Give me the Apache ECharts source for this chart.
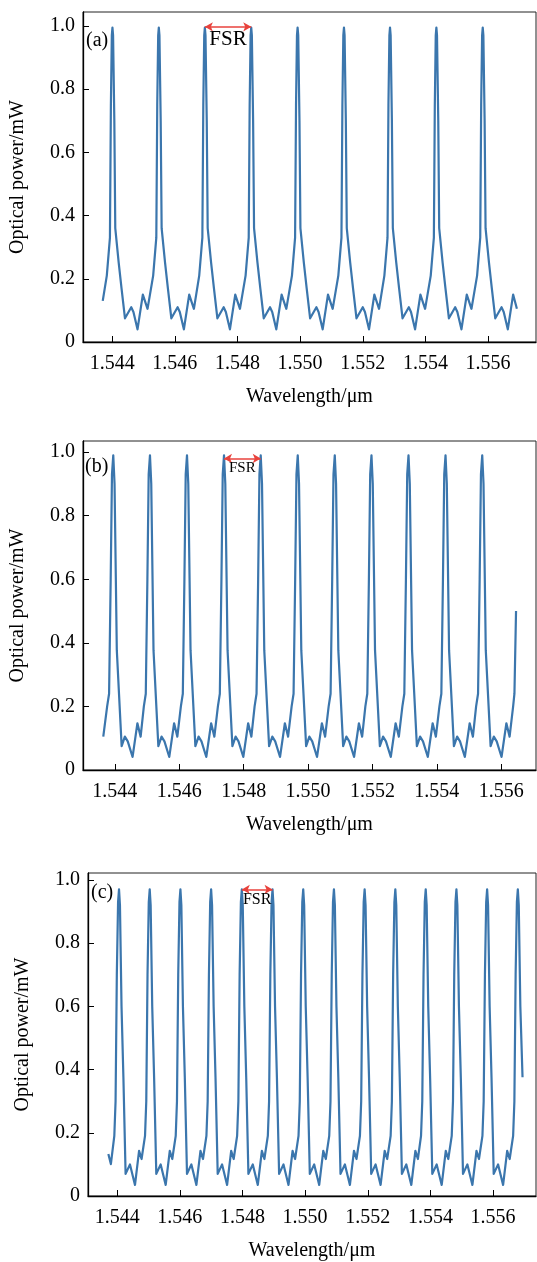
<!DOCTYPE html>
<html>
<head>
<meta charset="utf-8">
<script src="https://cdn.jsdelivr.net/npm/echarts@6/dist/echarts.min.js"></script>
<style>
  html, body { margin: 0; padding: 0; background: #fff; }
  #chart { width: 537px; height: 1262px; }
</style>
</head>
<body>
<div id="chart"></div>
<script>
// tick labels shared by the three panels
var xTicks = [1.544, 1.546, 1.548, 1.550, 1.552, 1.554, 1.556];
var yTicks = [0, 0.2, 0.4, 0.6, 0.8, 1.0];

// (a) spectrum, [wavelength um, power mW]
var spectrumA = [
  [1.54370, 0.13],
  [1.54383, 0.21], [1.54393, 0.33], [1.54396, 0.75], [1.54399, 0.97], [1.54401, 0.995], [1.54403, 0.97], [1.54407, 0.7], [1.54410, 0.36], [1.54421, 0.25], [1.54430, 0.17], [1.54441, 0.075], [1.54461, 0.11], [1.54468, 0.095], [1.54481, 0.04], [1.54498, 0.15], [1.54513, 0.105],
  [1.54531, 0.21], [1.54541, 0.33], [1.54544, 0.75], [1.54547, 0.97], [1.54549, 0.995], [1.54551, 0.97], [1.54555, 0.7], [1.54558, 0.36], [1.54569, 0.25], [1.54578, 0.17], [1.54589, 0.075], [1.54609, 0.11], [1.54616, 0.095], [1.54629, 0.04], [1.54646, 0.15], [1.54661, 0.105],
  [1.54678, 0.21], [1.54688, 0.33], [1.54691, 0.75], [1.54694, 0.97], [1.54696, 0.995], [1.54698, 0.97], [1.54702, 0.7], [1.54705, 0.36], [1.54716, 0.25], [1.54725, 0.17], [1.54736, 0.075], [1.54756, 0.11], [1.54763, 0.095], [1.54776, 0.04], [1.54793, 0.15], [1.54808, 0.105],
  [1.54826, 0.21], [1.54836, 0.33], [1.54839, 0.75], [1.54842, 0.97], [1.54844, 0.995], [1.54846, 0.97], [1.54850, 0.7], [1.54853, 0.36], [1.54864, 0.25], [1.54873, 0.17], [1.54884, 0.075], [1.54904, 0.11], [1.54911, 0.095], [1.54924, 0.04], [1.54941, 0.15], [1.54956, 0.105],
  [1.54974, 0.21], [1.54984, 0.33], [1.54987, 0.75], [1.54990, 0.97], [1.54992, 0.995], [1.54994, 0.97], [1.54998, 0.7], [1.55001, 0.36], [1.55012, 0.25], [1.55021, 0.17], [1.55032, 0.075], [1.55052, 0.11], [1.55059, 0.095], [1.55072, 0.04], [1.55089, 0.15], [1.55104, 0.105],
  [1.55122, 0.21], [1.55132, 0.33], [1.55135, 0.75], [1.55138, 0.97], [1.55140, 0.995], [1.55142, 0.97], [1.55146, 0.7], [1.55149, 0.36], [1.55160, 0.25], [1.55169, 0.17], [1.55180, 0.075], [1.55200, 0.11], [1.55207, 0.095], [1.55220, 0.04], [1.55237, 0.15], [1.55252, 0.105],
  [1.55269, 0.21], [1.55279, 0.33], [1.55282, 0.75], [1.55285, 0.97], [1.55287, 0.995], [1.55289, 0.97], [1.55293, 0.7], [1.55296, 0.36], [1.55307, 0.25], [1.55316, 0.17], [1.55327, 0.075], [1.55347, 0.11], [1.55354, 0.095], [1.55367, 0.04], [1.55384, 0.15], [1.55399, 0.105],
  [1.55417, 0.21], [1.55427, 0.33], [1.55430, 0.75], [1.55433, 0.97], [1.55435, 0.995], [1.55437, 0.97], [1.55441, 0.7], [1.55444, 0.36], [1.55455, 0.25], [1.55464, 0.17], [1.55475, 0.075], [1.55495, 0.11], [1.55502, 0.095], [1.55515, 0.04], [1.55532, 0.15], [1.55547, 0.105],
  [1.55565, 0.21], [1.55575, 0.33], [1.55578, 0.75], [1.55581, 0.97], [1.55583, 0.995], [1.55585, 0.97], [1.55589, 0.7], [1.55592, 0.36], [1.55603, 0.25], [1.55612, 0.17], [1.55623, 0.075], [1.55643, 0.11], [1.55650, 0.095], [1.55663, 0.04], [1.55680, 0.15], [1.55692, 0.105]
];

// (b)
var spectrumB = [
  [1.54364, 0.105],
  [1.54376, 0.2], [1.54382, 0.24], [1.54387, 0.6], [1.54391, 0.93], [1.54395, 0.99], [1.54399, 0.9], [1.54406, 0.377], [1.54421, 0.075], [1.54431, 0.105], [1.54440, 0.09], [1.54455, 0.041], [1.54470, 0.147], [1.54480, 0.105],
  [1.54490, 0.2], [1.54496, 0.24], [1.54501, 0.6], [1.54505, 0.93], [1.54509, 0.99], [1.54513, 0.9], [1.54520, 0.377], [1.54535, 0.075], [1.54545, 0.105], [1.54554, 0.09], [1.54569, 0.041], [1.54584, 0.147], [1.54594, 0.105],
  [1.54605, 0.2], [1.54611, 0.24], [1.54616, 0.6], [1.54620, 0.93], [1.54624, 0.99], [1.54628, 0.9], [1.54635, 0.377], [1.54650, 0.075], [1.54660, 0.105], [1.54669, 0.09], [1.54684, 0.041], [1.54699, 0.147], [1.54709, 0.105],
  [1.54720, 0.2], [1.54726, 0.24], [1.54731, 0.6], [1.54735, 0.93], [1.54739, 0.99], [1.54743, 0.9], [1.54750, 0.377], [1.54765, 0.075], [1.54775, 0.105], [1.54784, 0.09], [1.54799, 0.041], [1.54814, 0.147], [1.54824, 0.105],
  [1.54834, 0.2], [1.54840, 0.24], [1.54845, 0.6], [1.54849, 0.93], [1.54853, 0.99], [1.54857, 0.9], [1.54864, 0.377], [1.54879, 0.075], [1.54889, 0.105], [1.54898, 0.09], [1.54913, 0.041], [1.54928, 0.147], [1.54938, 0.105],
  [1.54949, 0.2], [1.54955, 0.24], [1.54960, 0.6], [1.54964, 0.93], [1.54968, 0.99], [1.54972, 0.9], [1.54979, 0.377], [1.54994, 0.075], [1.55004, 0.105], [1.55013, 0.09], [1.55028, 0.041], [1.55043, 0.147], [1.55053, 0.105],
  [1.55064, 0.2], [1.55070, 0.24], [1.55075, 0.6], [1.55079, 0.93], [1.55083, 0.99], [1.55087, 0.9], [1.55094, 0.377], [1.55109, 0.075], [1.55119, 0.105], [1.55128, 0.09], [1.55143, 0.041], [1.55158, 0.147], [1.55168, 0.105],
  [1.55178, 0.2], [1.55184, 0.24], [1.55189, 0.6], [1.55193, 0.93], [1.55197, 0.99], [1.55201, 0.9], [1.55208, 0.377], [1.55223, 0.075], [1.55233, 0.105], [1.55242, 0.09], [1.55257, 0.041], [1.55272, 0.147], [1.55282, 0.105],
  [1.55293, 0.2], [1.55299, 0.24], [1.55304, 0.6], [1.55308, 0.93], [1.55312, 0.99], [1.55316, 0.9], [1.55323, 0.377], [1.55338, 0.075], [1.55348, 0.105], [1.55357, 0.09], [1.55372, 0.041], [1.55387, 0.147], [1.55397, 0.105],
  [1.55408, 0.2], [1.55414, 0.24], [1.55419, 0.6], [1.55423, 0.93], [1.55427, 0.99], [1.55431, 0.9], [1.55438, 0.377], [1.55453, 0.075], [1.55463, 0.105], [1.55472, 0.09], [1.55487, 0.041], [1.55502, 0.147], [1.55512, 0.105],
  [1.55522, 0.2], [1.55528, 0.24], [1.55533, 0.6], [1.55537, 0.93], [1.55541, 0.99], [1.55545, 0.9], [1.55552, 0.377], [1.55567, 0.075], [1.55577, 0.105], [1.55586, 0.09], [1.55601, 0.041], [1.55616, 0.147], [1.55626, 0.105],
  [1.55637, 0.2], [1.55641, 0.24], [1.55646, 0.5]
];

// (c)
var spectrumC = [
  [1.54372, 0.133], [1.54380, 0.101],
  [1.54391, 0.19], [1.54395, 0.3], [1.54399, 0.7], [1.54403, 0.93], [1.54406, 0.97], [1.54409, 0.92], [1.54414, 0.6], [1.54420, 0.376], [1.54427, 0.07], [1.54441, 0.1], [1.54457, 0.035], [1.54470, 0.143], [1.54478, 0.117],
  [1.54489, 0.19], [1.54493, 0.3], [1.54497, 0.7], [1.54501, 0.93], [1.54504, 0.97], [1.54507, 0.92], [1.54512, 0.6], [1.54518, 0.376], [1.54525, 0.07], [1.54539, 0.1], [1.54555, 0.035], [1.54568, 0.143], [1.54576, 0.117],
  [1.54587, 0.19], [1.54591, 0.3], [1.54595, 0.7], [1.54599, 0.93], [1.54602, 0.97], [1.54605, 0.92], [1.54610, 0.6], [1.54616, 0.376], [1.54623, 0.07], [1.54637, 0.1], [1.54653, 0.035], [1.54666, 0.143], [1.54674, 0.117],
  [1.54685, 0.19], [1.54689, 0.3], [1.54693, 0.7], [1.54697, 0.93], [1.54700, 0.97], [1.54703, 0.92], [1.54708, 0.6], [1.54714, 0.376], [1.54721, 0.07], [1.54735, 0.1], [1.54751, 0.035], [1.54764, 0.143], [1.54772, 0.117],
  [1.54783, 0.19], [1.54787, 0.3], [1.54791, 0.7], [1.54795, 0.93], [1.54798, 0.97], [1.54801, 0.92], [1.54806, 0.6], [1.54812, 0.376], [1.54819, 0.07], [1.54833, 0.1], [1.54849, 0.035], [1.54862, 0.143], [1.54870, 0.117],
  [1.54881, 0.19], [1.54885, 0.3], [1.54889, 0.7], [1.54893, 0.93], [1.54896, 0.97], [1.54899, 0.92], [1.54904, 0.6], [1.54910, 0.376], [1.54917, 0.07], [1.54931, 0.1], [1.54947, 0.035], [1.54960, 0.143], [1.54968, 0.117],
  [1.54979, 0.19], [1.54983, 0.3], [1.54987, 0.7], [1.54991, 0.93], [1.54994, 0.97], [1.54997, 0.92], [1.55002, 0.6], [1.55008, 0.376], [1.55015, 0.07], [1.55029, 0.1], [1.55045, 0.035], [1.55058, 0.143], [1.55066, 0.117],
  [1.55077, 0.19], [1.55081, 0.3], [1.55085, 0.7], [1.55089, 0.93], [1.55092, 0.97], [1.55095, 0.92], [1.55100, 0.6], [1.55106, 0.376], [1.55113, 0.07], [1.55127, 0.1], [1.55143, 0.035], [1.55156, 0.143], [1.55164, 0.117],
  [1.55175, 0.19], [1.55179, 0.3], [1.55183, 0.7], [1.55187, 0.93], [1.55190, 0.97], [1.55193, 0.92], [1.55198, 0.6], [1.55204, 0.376], [1.55211, 0.07], [1.55225, 0.1], [1.55241, 0.035], [1.55254, 0.143], [1.55262, 0.117],
  [1.55273, 0.19], [1.55277, 0.3], [1.55281, 0.7], [1.55285, 0.93], [1.55288, 0.97], [1.55291, 0.92], [1.55296, 0.6], [1.55302, 0.376], [1.55309, 0.07], [1.55323, 0.1], [1.55339, 0.035], [1.55352, 0.143], [1.55360, 0.117],
  [1.55370, 0.19], [1.55374, 0.3], [1.55378, 0.7], [1.55382, 0.93], [1.55385, 0.97], [1.55388, 0.92], [1.55393, 0.6], [1.55399, 0.376], [1.55406, 0.07], [1.55420, 0.1], [1.55436, 0.035], [1.55449, 0.143], [1.55457, 0.117],
  [1.55468, 0.19], [1.55472, 0.3], [1.55476, 0.7], [1.55480, 0.93], [1.55483, 0.97], [1.55486, 0.92], [1.55491, 0.6], [1.55497, 0.376], [1.55504, 0.07], [1.55518, 0.1], [1.55534, 0.035], [1.55547, 0.143], [1.55555, 0.117],
  [1.55566, 0.19], [1.55570, 0.3], [1.55574, 0.7], [1.55578, 0.93], [1.55581, 0.97], [1.55584, 0.92], [1.55589, 0.6], [1.55595, 0.376], [1.55602, 0.07], [1.55616, 0.1], [1.55632, 0.035], [1.55645, 0.143], [1.55653, 0.117],
  [1.55664, 0.19], [1.55668, 0.3], [1.55672, 0.7], [1.55676, 0.93], [1.55679, 0.97], [1.55682, 0.92], [1.55687, 0.6], [1.55694, 0.376]
];

// FSR arrows: two neighbouring peaks and the height of the arrow
var fsrA = [1.54696, 1.54844, 0.997];
var fsrB = [1.54739, 1.54853, 0.98];
var fsrC = [1.54798, 1.54896, 0.97];

var serif = "'Liberation Serif', 'Times New Roman', serif";
var blue = '#3b76ad';

var grids = [
  { left: 83, top: 12, width: 453, height: 330, xmin: 1.54307, xmax: 1.55753, ymax: 1.044 },
  { left: 83, top: 441, width: 453, height: 329, xmin: 1.54301, xmax: 1.55708, ymax: 1.035 },
  { left: 88, top: 873, width: 448, height: 323, xmin: 1.54307, xmax: 1.55737, ymax: 1.022 }
];

function xAxisFor(i) {
  return {
    type: 'value', gridIndex: i, min: grids[i].xmin, max: grids[i].xmax,
    name: 'Wavelength/\u03bcm', nameLocation: 'middle', nameGap: 45,
    nameTextStyle: { fontFamily: serif, fontSize: 20, color: '#000' },
    axisLine: { lineStyle: { color: '#000', width: 1.3 } },
    axisTick: { inside: true, length: 6, lineStyle: { color: '#000' }, customValues: xTicks },
    axisLabel: { fontFamily: serif, fontSize: 20, color: '#000', margin: 12, customValues: xTicks,
      formatter: function (v) { return v.toFixed(3); } },
    splitLine: { show: false }
  };
}

function yAxisFor(i) {
  return {
    type: 'value', gridIndex: i, min: 0, max: grids[i].ymax,
    name: 'Optical power/mW', nameLocation: 'middle', nameGap: 55,
    nameTextStyle: { fontFamily: serif, fontSize: 20, color: '#000' },
    axisLine: { lineStyle: { color: '#000', width: 1.3 } },
    axisTick: { inside: true, length: 6, lineStyle: { color: '#000' }, customValues: yTicks },
    axisLabel: { fontFamily: serif, fontSize: 20, color: '#000', margin: 8, customValues: yTicks,
      formatter: function (v) { return v === 0 ? '0' : v.toFixed(1); } },
    splitLine: { show: false }
  };
}

function seriesFor(i, data, fsr, fsrSize) {
  return {
    type: 'line', xAxisIndex: i, yAxisIndex: i, data: data,
    showSymbol: false, smooth: false, animation: false,
    lineStyle: { color: blue, width: 2.2, join: 'round' },
    markLine: {
      silent: true, symbol: ['arrow', 'arrow'], symbolSize: [7, 8],
      lineStyle: { color: '#e8423c', width: 1.5, type: 'solid' },
      label: { show: true, formatter: 'FSR', position: 'insideMiddleBottom', distance: 2,
        fontFamily: serif, fontSize: fsrSize, color: '#000' },
      data: [[{ coord: [fsr[0], fsr[2]] }, { coord: [fsr[1], fsr[2]] }]]
    }
  };
}

var chart = echarts.init(document.getElementById('chart'));
chart.setOption({
  backgroundColor: '#fff',
  animation: false,
  grid: grids.map(function (g) {
    return { left: g.left, top: g.top, width: g.width, height: g.height,
      show: true, borderColor: '#222', borderWidth: 1, backgroundColor: 'transparent' };
  }),
  xAxis: [xAxisFor(0), xAxisFor(1), xAxisFor(2)],
  yAxis: [yAxisFor(0), yAxisFor(1), yAxisFor(2)],
  series: [
    seriesFor(0, spectrumA, fsrA, 21),
    seriesFor(1, spectrumB, fsrB, 15),
    seriesFor(2, spectrumC, fsrC, 16)
  ],
  graphic: [
    { type: 'text', left: 86, top: 31, style: { text: '(a)', font: '20px ' + serif, fill: '#000' } },
    { type: 'text', left: 85, top: 457, style: { text: '(b)', font: '20px ' + serif, fill: '#000' } },
    { type: 'text', left: 91, top: 883, style: { text: '(c)', font: '20px ' + serif, fill: '#000' } }
  ]
});
</script>
</body>
</html>
